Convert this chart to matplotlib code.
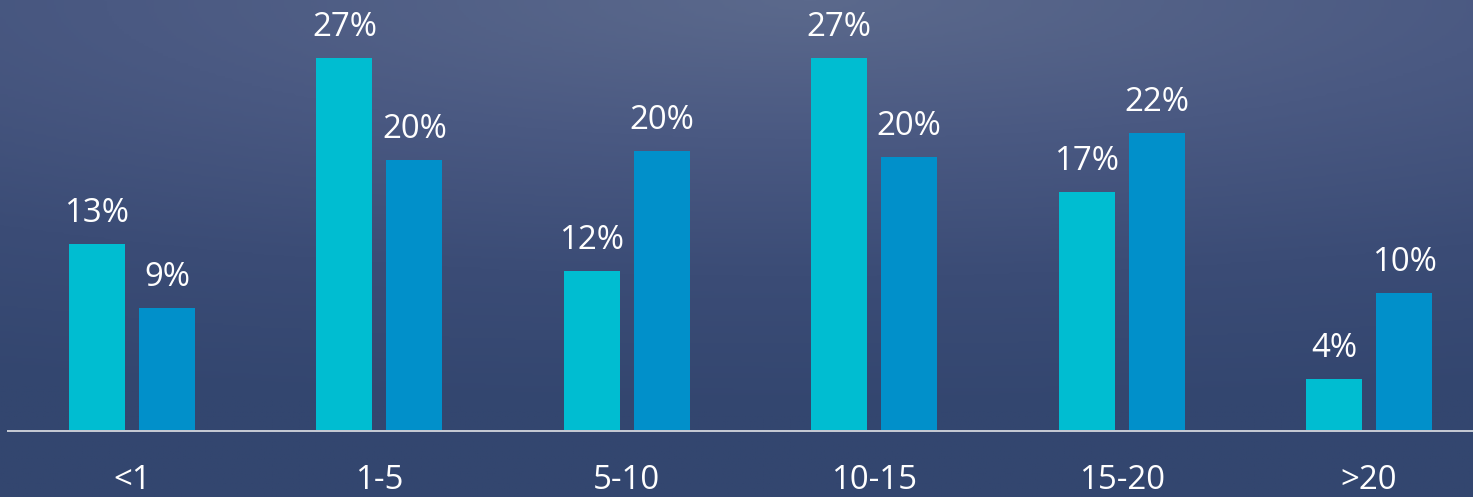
import numpy as np
import matplotlib.pyplot as plt
from matplotlib.colors import LinearSegmentedColormap

# years of experience groups, two series
categories = ['<1', '1-5', '5-10', '10-15', '15-20', '>20']
series_a = [13.5, 27.0, 11.6, 27.0, 17.3, 3.8]
series_b = [8.9, 19.6, 20.3, 19.8, 21.6, 10.0]
labels_a = ['13%', '27%', '12%', '27%', '17%', '4%']
labels_b = ['9%', '20%', '20%', '20%', '22%', '10%']

color_a = '#00bdd1'
color_b = '#0190ca'
font = 'Open Sans'

W, H = 1473, 497
fig = plt.figure(figsize=(W / 72, H / 72), dpi=72)

# background: dark navy, a bit lighter towards the top centre
bg = fig.add_axes([0, 0, 1, 1], zorder=0)
yy, xx = np.mgrid[0:1:200j, 0:1:600j]
d = np.sqrt(((xx - 0.55) * 0.7) ** 2 + (yy * 1.2) ** 2)
cmap = LinearSegmentedColormap.from_list('bg', ['#5b698c', '#4a5982', '#3b4c76', '#33466f'])
bg.imshow(np.clip(d, 0, 1), cmap=cmap, aspect='auto', extent=[0, 1, 1, 0], vmin=0, vmax=1)
bg.set_axis_off()

# plot axes: baseline at y=431px, 27% bar top at 58px
left = 8 / W
bottom = (H - 431) / H
ax = fig.add_axes([left, bottom, 1 - left, 431 / H], zorder=1)
ax.patch.set_alpha(0)

x = np.arange(len(categories))
w = 0.226
off = 0.283 / 2
bars_a = ax.bar(x - off, series_a, w, color=color_a)
bars_b = ax.bar(x + off, series_b, w, color=color_b)

px = 373 / 27.0  # pixels per percent
ax.set_ylim(0, 431 / px)
ax.set_xlim(-124 / 247.4, (W - 132) / 247.4)

for bars, labs in [(bars_a, labels_a), (bars_b, labels_b)]:
    for b, t in zip(bars, labs):
        ax.text(b.get_x() + b.get_width() / 2, b.get_height() + 22 / px, t,
                ha='center', va='baseline', color='white', fontsize=33, family=font)

for s in ['top', 'right', 'left']:
    ax.spines[s].set_visible(False)
ax.spines['bottom'].set_color('#c3c8d2')
ax.spines['bottom'].set_linewidth(2)
ax.set_yticks([])
ax.set_xticks(x)
ax.set_xticklabels(categories, fontsize=33, color='white', family=font)
ax.tick_params(axis='x', length=0, pad=33)

fig.savefig('out.png', dpi=72)
